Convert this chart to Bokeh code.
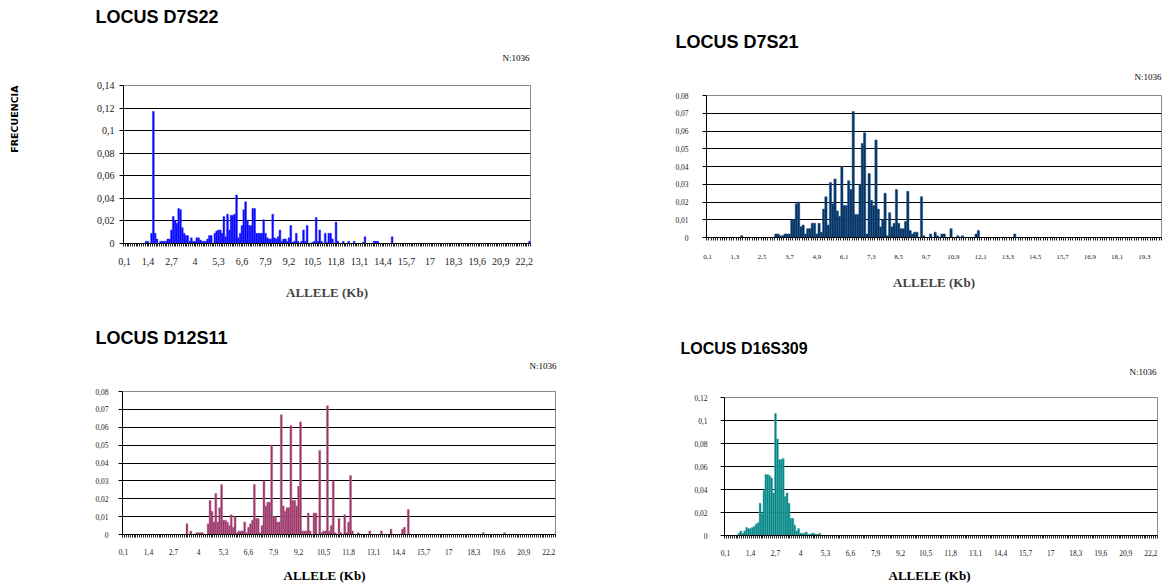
from bokeh.plotting import figure
from bokeh.models import Range1d, FixedTicker, Title
from bokeh.layouts import column, row
from bokeh.embed import file_html
from bokeh.resources import INLINE

# ---------------- data ----------------
# Allele size (Kb) categories and observed frequencies (only non-zero bars)
d7s22_alleles = [1.3, 1.4, 1.6, 1.7, 1.8, 1.9, 2.1, 2.2, 2.3, 2.4, 2.5, 2.6, 2.7, 2.8, 2.9, 3.0,
                 3.1, 3.2, 3.3, 3.4, 3.5, 3.6, 3.7, 3.8, 3.9, 4.0, 4.1, 4.2, 4.3, 4.4, 4.5, 4.6,
                 4.7, 4.8, 4.9, 5.1, 5.2, 5.3, 5.4, 5.5, 5.6, 5.7, 5.8, 5.9, 6.0, 6.1, 6.2, 6.3,
                 6.4, 6.5, 6.6, 6.7, 6.8, 6.9, 7.0, 7.1, 7.2, 7.3, 7.4, 7.5, 7.6, 7.7, 7.8, 7.9,
                 8.0, 8.1, 8.2, 8.3, 8.4, 8.5, 8.6, 8.7, 8.8, 8.9, 9.0, 9.1, 9.2, 9.3, 9.4, 9.5,
                 9.6, 9.7, 9.9, 10.0, 10.1, 10.2, 10.5, 10.6, 10.7, 10.8, 10.9, 11.0, 11.2, 11.3,
                 11.4, 11.5, 11.6, 11.8, 11.9, 12.2, 12.5, 12.8, 13.3, 13.4, 13.9, 14.0, 14.1,
                 14.9, 22.5]
d7s22_freq = [0.002, 0.002, 0.009, 0.117, 0.009, 0.004, 0.002, 0.002, 0.002, 0.002, 0.004, 0.004,
              0.012, 0.024, 0.020, 0.018, 0.031, 0.030, 0.014, 0.009, 0.007, 0.007, 0.002, 0.005,
              0.002, 0.002, 0.005, 0.005, 0.003, 0.002, 0.002, 0.002, 0.004, 0.007, 0.007, 0.009,
              0.011, 0.012, 0.012, 0.009, 0.024, 0.006, 0.026, 0.012, 0.025, 0.025, 0.026, 0.043,
              0.005, 0.009, 0.016, 0.030, 0.037, 0.020, 0.016, 0.016, 0.031, 0.031, 0.009, 0.009,
              0.009, 0.009, 0.021, 0.009, 0.005, 0.004, 0.004, 0.026, 0.005, 0.004, 0.006, 0.012,
              0.002, 0.004, 0.004, 0.002, 0.005, 0.016, 0.001, 0.002, 0.009, 0.002, 0.002, 0.012,
              0.002, 0.016, 0.001, 0.002, 0.023, 0.002, 0.012, 0.002, 0.009, 0.001, 0.009, 0.009,
              0.004, 0.019, 0.002, 0.002, 0.002, 0.002, 0.001, 0.006, 0.002, 0.002, 0.002, 0.006,
              0.002]

d7s21_alleles = [1.6, 3.1, 3.2, 3.3, 3.4, 3.5, 3.6, 3.7, 3.8, 3.9, 4.0, 4.1, 4.2, 4.3, 4.4, 4.5,
                 4.6, 4.7, 4.8, 4.9, 5.0, 5.1, 5.2, 5.3, 5.4, 5.5, 5.6, 5.7, 5.8, 5.9, 6.0, 6.1,
                 6.2, 6.3, 6.4, 6.5, 6.6, 6.7, 6.8, 6.9, 7.0, 7.1, 7.2, 7.3, 7.4, 7.5, 7.6, 7.7,
                 7.8, 7.9, 8.0, 8.1, 8.2, 8.3, 8.4, 8.5, 8.6, 8.7, 8.8, 8.9, 9.0, 9.1, 9.2, 9.3,
                 9.5, 9.6, 9.9, 10.1, 10.2, 10.4, 10.5, 10.8, 11.1, 11.3, 11.9, 12.0, 13.6]
d7s21_freq = [0.001, 0.002, 0.002, 0.001, 0.001, 0.002, 0.002, 0.002, 0.010, 0.010, 0.019, 0.020,
              0.006, 0.007, 0.002, 0.005, 0.005, 0.008, 0.008, 0.002, 0.008, 0.003, 0.016, 0.023,
              0.007, 0.031, 0.019, 0.033, 0.015, 0.012, 0.040, 0.018, 0.018, 0.032, 0.027, 0.071,
              0.013, 0.013, 0.030, 0.053, 0.059, 0.002, 0.036, 0.021, 0.018, 0.055, 0.016, 0.006,
              0.010, 0.025, 0.001, 0.014, 0.006, 0.008, 0.027, 0.008, 0.005, 0.005, 0.009, 0.026,
              0.004, 0.002, 0.003, 0.003, 0.023, 0.001, 0.002, 0.003, 0.001, 0.002, 0.002, 0.005,
              0.001, 0.001, 0.002, 0.004, 0.002]

d12s11_alleles = [3.4, 3.6, 3.9, 4.0, 4.1, 4.2, 4.5, 4.6, 4.7, 4.8, 4.9, 5.0, 5.1, 5.2, 5.3, 5.4,
                  5.5, 5.6, 5.7, 5.8, 5.9, 6.0, 6.1, 6.2, 6.3, 6.4, 6.5, 6.6, 6.7, 6.8, 6.9, 7.0,
                  7.1, 7.2, 7.3, 7.4, 7.5, 7.6, 7.7, 7.8, 7.9, 8.0, 8.1, 8.2, 8.3, 8.4, 8.5, 8.6,
                  8.7, 8.8, 8.9, 9.0, 9.1, 9.2, 9.3, 9.4, 9.5, 9.6, 9.7, 9.8, 10.0, 10.1, 10.3,
                  10.4, 10.5, 10.6, 10.7, 10.8, 10.9, 11.0, 11.1, 11.3, 11.4, 11.6, 11.7, 11.8,
                  11.9, 12.0, 12.3, 12.9, 13.5, 14.0, 14.6, 14.7, 14.9, 18.8, 19.9]
d12s11_freq = [0.006, 0.002, 0.001, 0.001, 0.001, 0.001, 0.006, 0.019, 0.013, 0.007, 0.023, 0.007,
               0.015, 0.028, 0.008, 0.008, 0.007, 0.005, 0.011, 0.004, 0.010, 0.001, 0.002, 0.002,
               0.002, 0.007, 0.001, 0.004, 0.006, 0.008, 0.028, 0.009, 0.009, 0.001, 0.005, 0.030,
               0.016, 0.018, 0.018, 0.050, 0.010, 0.010, 0.007, 0.007, 0.067, 0.016, 0.013, 0.015,
               0.015, 0.061, 0.019, 0.019, 0.016, 0.027, 0.063, 0.002, 0.002, 0.002, 0.012, 0.002,
               0.012, 0.012, 0.047, 0.001, 0.002, 0.002, 0.072, 0.002, 0.005, 0.030, 0.001, 0.009,
               0.001, 0.011, 0.001, 0.007, 0.033, 0.002, 0.001, 0.002, 0.002, 0.003, 0.003, 0.004,
               0.014, 0.001, 0.001]

d16s309_alleles = [0.8, 0.9, 1.0, 1.1, 1.2, 1.3, 1.4, 1.5, 1.6, 1.7, 1.8, 1.9, 2.0, 2.1, 2.2, 2.3,
                   2.4, 2.5, 2.6, 2.7, 2.8, 2.9, 3.0, 3.1, 3.2, 3.3, 3.4, 3.5, 3.6, 3.7, 3.8, 3.9,
                   4.0, 4.1, 4.2, 4.3, 4.4, 4.5, 4.6, 4.7, 4.8, 4.9, 5.0]
d16s309_freq = [0.002, 0.004, 0.002, 0.004, 0.007, 0.006, 0.006, 0.007, 0.008, 0.010, 0.011, 0.028,
                0.019, 0.039, 0.053, 0.053, 0.052, 0.050, 0.037, 0.106, 0.084, 0.066, 0.066, 0.067,
                0.034, 0.037, 0.028, 0.015, 0.015, 0.009, 0.004, 0.006, 0.002, 0.002, 0.002, 0.003,
                0.001, 0.001, 0.002, 0.002, 0.001, 0.001, 0.002]

# x tick labels (every 13th / 12th allele category)
xticks_13 = [0.1, 1.4, 2.7, 4.0, 5.3, 6.6, 7.9, 9.2, 10.5, 11.8, 13.1, 14.4, 15.7, 17.0, 18.3,
             19.6, 20.9, 22.2]
xlabels_13 = ["0,1", "1,4", "2,7", "4", "5,3", "6,6", "7,9", "9,2", "10,5", "11,8", "13,1", "14,4",
              "15,7", "17", "18,3", "19,6", "20,9", "22,2"]
xticks_12 = [0.1, 1.3, 2.5, 3.7, 4.9, 6.1, 7.3, 8.5, 9.7, 10.9, 12.1, 13.3, 14.5, 15.7, 16.9,
             18.1, 19.3]
xlabels_12 = ["0,1", "1,3", "2,5", "3,7", "4,9", "6,1", "7,3", "8,5", "9,7", "10,9", "12,1", "13,3",
              "14,5", "15,7", "16,9", "18,1", "19,3"]

# y tick labels
yticks_014 = [0.0, 0.02, 0.04, 0.06, 0.08, 0.1, 0.12, 0.14]
ylabels_014 = ["0", "0,02", "0,04", "0,06", "0,08", "0,1", "0,12", "0,14"]
yticks_008 = [0.0, 0.01, 0.02, 0.03, 0.04, 0.05, 0.06, 0.07, 0.08]
ylabels_008 = ["0", "0,01", "0,02", "0,03", "0,04", "0,05", "0,06", "0,07", "0,08"]
yticks_012 = [0.0, 0.02, 0.04, 0.06, 0.08, 0.1, 0.12]
ylabels_012 = ["0", "0,02", "0,04", "0,06", "0,08", "0,1", "0,12"]

titles = ["LOCUS D7S22", "LOCUS D7S21", "LOCUS D12S11", "LOCUS D16S309"]
sample_note = "N:1036"
x_title = "ALLELE (Kb)"
y_title = "FRECUENCIA"

SERIF = "Liberation Serif"
SANS = "Liberation Sans"
K = 1.33                      # layout box height per px of font size
SP_MIN = 2 + K * 2            # smallest spacer box


def th(size):
    return K * size


def vis(size):
    # distance from text top to the visual centre of capitals
    return 1.11 * size - 1.5


def add_text(p, side, text, font, size, style="normal", align="left", offset=0,
             valign="top", standoff=0):
    p.add_layout(Title(text=text, text_font=font, text_font_size=f"{size}px",
                       text_font_style=style, align=align, offset=offset,
                       vertical_align=valign, standoff=standoff, text_color="black"), side)


def add_gap(p, side, S):
    p.add_layout(Title(text=" ", text_font_size="2px", standoff=S, text_color="white"), side)


def above_stack(p, ft, fl, fr, items):
    """items: (text, font, size, style, align, x_page, y_center_page, standoff)."""
    cur = 0.0
    for text, font, size, style, align, xp, yp, s in items:
        h = th(size)
        box = 2 + h + s
        b = (ft - yp) - box + s / 2 + vis(size)
        gap = b - cur
        if gap >= SP_MIN:
            S = int(round(gap - SP_MIN))
            add_gap(p, "above", S)
            cur += SP_MIN + S
        off = (xp - fl) if align == "left" else (fr - xp)
        add_text(p, "above", text, font, size, style, align, off, "top", s)
        cur += box


def make_panel(g, alleles, freq, n_cat, ymax, xticks, xlabels, yticks, ylabels,
               fill, edge, xfs, yfs, xstand, ystand):
    ox, oy, W, H, fl, ft, fw, fh = g
    xmin = 0.05
    xmax = 0.05 + 0.1 * n_cat
    p = figure(frame_width=fw, frame_height=fh,
               min_border_left=fl - ox, min_border_right=W - (fl - ox) - fw,
               min_border_top=ft - oy, min_border_bottom=H - (ft - oy) - fh,
               x_range=Range1d(xmin, xmax), y_range=Range1d(0, ymax),
               output_backend="svg", toolbar_location=None, tools="")
    p.frame_align = False
    p.background_fill_color = "white"
    p.border_fill_color = "white"
    p.outline_line_color = "#8a8a8a"
    p.outline_line_width = 1

    p.vbar(x=alleles, top=freq, width=0.1, bottom=0,
           fill_color=fill, line_color=edge, line_width=0.5)

    bounds = [round(xmin + 0.1 * k, 2) for k in range(n_cat + 1)]
    xa = p.xaxis[0]
    xa.ticker = FixedTicker(ticks=xticks, minor_ticks=bounds)
    xa.major_label_overrides = {t: s for t, s in zip(xticks, xlabels)}
    xa.major_tick_line_color = None
    xa.major_tick_in = 0
    xa.major_tick_out = 0
    xa.minor_tick_in = 0
    xa.minor_tick_out = 3
    xa.minor_tick_line_color = "#222222"
    xa.minor_tick_line_width = 1
    xa.axis_line_color = "black"
    xa.major_label_text_font = SERIF
    xa.major_label_text_font_size = f"{xfs}px"
    xa.major_label_text_color = "#1a1a1a"
    xa.major_label_standoff = xstand

    ya = p.yaxis[0]
    ya.ticker = FixedTicker(ticks=yticks)
    ya.major_label_overrides = {t: s for t, s in zip(yticks, ylabels)}
    ya.minor_tick_line_color = None
    ya.major_tick_in = 0
    ya.major_tick_out = 4
    ya.major_tick_line_color = "black"
    ya.axis_line_color = "black"
    ya.major_label_text_font = SERIF
    ya.major_label_text_font_size = f"{yfs}px"
    ya.major_label_text_color = "#1a1a1a"
    ya.major_label_standoff = ystand

    p.xgrid.visible = False
    p.ygrid.ticker = FixedTicker(ticks=yticks)
    p.ygrid.grid_line_color = "black"
    p.ygrid.grid_line_width = 1
    return p


def axis_title(p, stand):
    xa = p.xaxis[0]
    xa.axis_label = x_title
    xa.axis_label_text_font = SERIF
    xa.axis_label_text_font_size = "13px"
    xa.axis_label_text_font_style = "bold"
    xa.axis_label_standoff = stand


# page geometry (the page starts at 0,0): fig origin x, y, width, height,
# frame left, top, width, height
G1 = (0, 0, 588, 308, 123, 85, 407, 158)
G2 = (588, 0, 577, 308, 706, 95, 455, 142)
G3 = (0, 308, 588, 277, 122, 391, 433, 143)
G4 = (588, 308, 577, 277, 724, 397, 433, 138)

# ---- panel 1 ----
p1 = make_panel(G1, d7s22_alleles, d7s22_freq, 225, 0.14, xticks_13, xlabels_13,
                yticks_014, ylabels_014, "#0000ff", "#3a3aff", 10, 10, 11, 5)
above_stack(p1, 85, 123, 530, [
    (sample_note, SERIF, 9, "normal", "right", 529, 58, 0),
    (titles[0], SANS, 18, "bold", "left", 95, 17.5, -10),
])
axis_title(p1, 17)
# FRECUENCIA on the far left (outside the y axis)
add_gap(p1, "left", 71)
add_text(p1, "left", y_title, "DejaVu Sans", 9.5, style="bold", align="right", offset=0,
         valign="top", standoff=-6)

# ---- panel 2 ----
p2 = make_panel(G2, d7s21_alleles, d7s21_freq, 200, 0.08, xticks_12, xlabels_12,
                yticks_008, ylabels_008, "#003366", "#2a5580", 7, 7.5, 14, 14)
above_stack(p2, 95, 706, 1161, [
    (sample_note, SERIF, 9, "normal", "right", 1161, 77, 0),
    (titles[1], SANS, 18, "bold", "left", 675, 42.5, 0),
])
axis_title(p2, 13)

# ---- panel 3 ----
p3 = make_panel(G3, d12s11_alleles, d12s11_freq, 225, 0.08, xticks_13, xlabels_13,
                yticks_008, ylabels_008, "#993366", "#b86a90", 7.5, 7.5, 11, 10)
above_stack(p3, 391, 122, 555, [
    (sample_note, SERIF, 9, "normal", "right", 556, 366, 0),
    (titles[2], SANS, 18, "bold", "left", 95, 338, 0),
])
add_gap(p3, "below", 6)
add_text(p3, "below", x_title, SERIF, 13, style="bold", align="left",
         offset=283 - 122, valign="bottom", standoff=-4)

# ---- panel 4 ----
p4 = make_panel(G4, d16s309_alleles, d16s309_freq, 225, 0.12, xticks_13, xlabels_13,
                yticks_012, ylabels_012, "#008080", "#4ab0b0", 7.5, 7.5, 11, 13)
above_stack(p4, 397, 724, 1157, [
    (sample_note, SERIF, 9, "normal", "right", 1156, 372, 0),
    (titles[3], SANS, 16, "bold", "left", 680, 348, 0),
])
add_gap(p4, "below", 5)
add_text(p4, "below", x_title, SERIF, 13, style="bold", align="left",
         offset=888 - 724, valign="bottom", standoff=-4)

layout = column(row(p1, p2), row(p3, p4))
open("out.html", "w").write(file_html(layout, INLINE))
